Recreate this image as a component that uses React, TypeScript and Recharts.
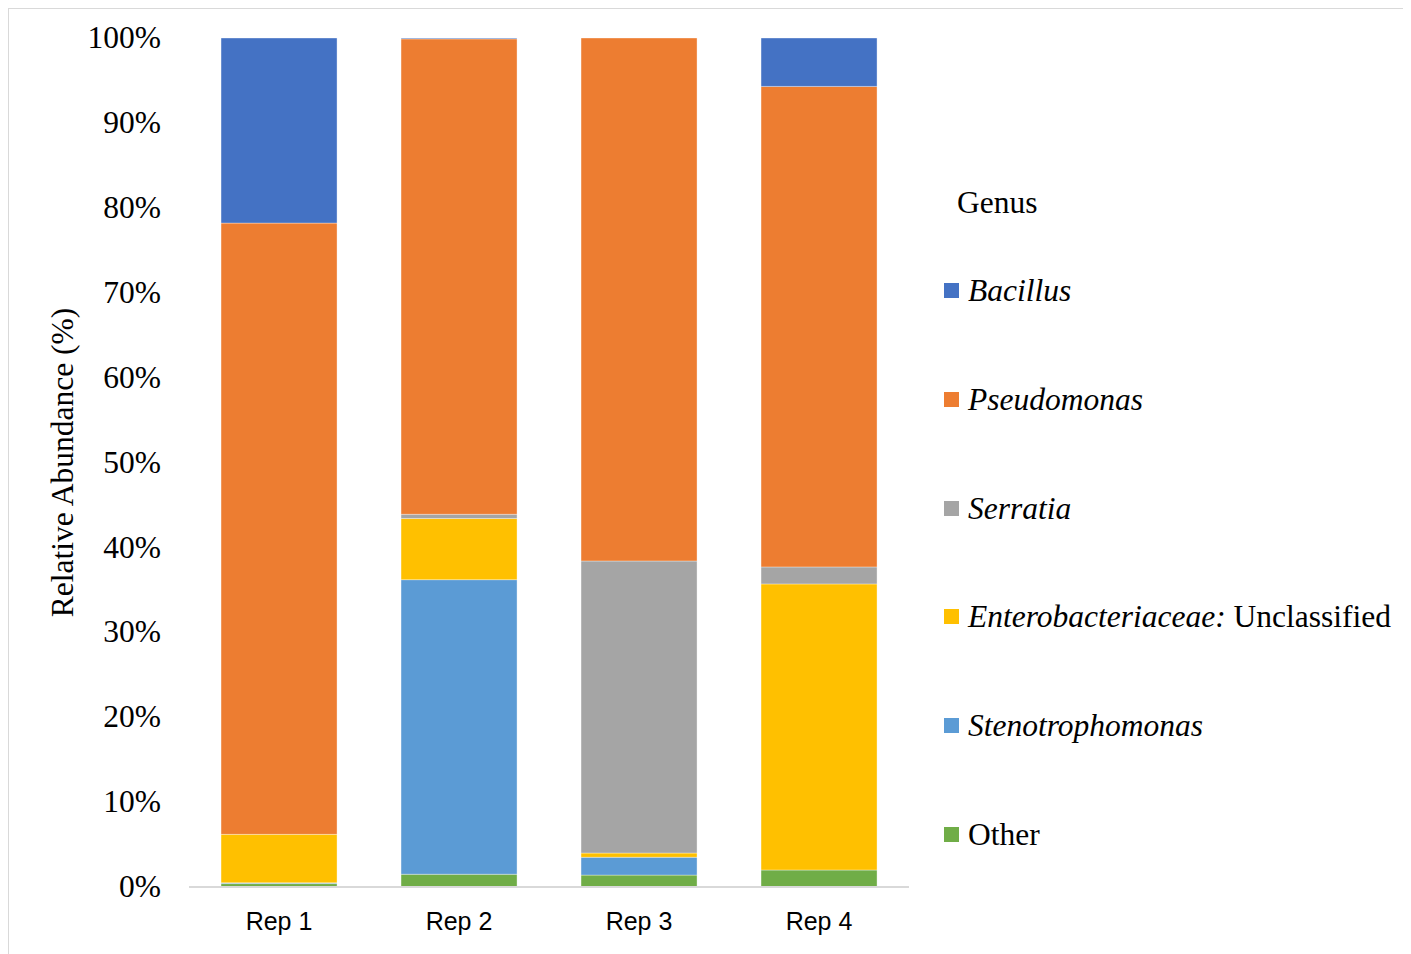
import { BarChart, Bar, XAxis, YAxis, Legend } from "recharts"

const reps = ["Rep 1", "Rep 2", "Rep 3", "Rep 4"]

// relative abundance (%) per genus, one value per rep
const other = [0.4, 1.5, 1.4, 2.0]
const stenotrophomonas = [0.1, 34.7, 2.1, 0.0]
const enterobacteriaceae = [5.7, 7.2, 0.5, 33.7]
const serratia = [0.0, 0.5, 34.4, 2.0]
const pseudomonas = [72.0, 56.0, 61.6, 56.6]
const bacillus = [21.8, 0.1, 0.0, 5.7]

const yTicks = [0, 10, 20, 30, 40, 50, 60, 70, 80, 90, 100]

const SERIES = [
  { key: "bacillus", name: "Bacillus", color: "#4472C4" },
  { key: "pseudomonas", name: "Pseudomonas", color: "#ED7D31" },
  { key: "serratia", name: "Serratia", color: "#A5A5A5" },
  { key: "entero", name: "Enterobacteriaceae:", suffix: "\u00a0Unclassified", color: "#FFC000" },
  { key: "steno", name: "Stenotrophomonas", color: "#5B9BD5" },
  { key: "other", name: "Other", color: "#70AD47", plain: true },
]

const data = reps.map((rep, i) => ({
  rep,
  other: other[i],
  steno: stenotrophomonas[i],
  entero: enterobacteriaceae[i],
  serratia: serratia[i],
  pseudomonas: pseudomonas[i],
  bacillus: bacillus[i],
}))

const serif = "'Liberation Serif', 'Times New Roman', serif"

// legend is drawn in a zero-size wrapper so it doesn't eat into the plot area
const renderLegend = () => (
  <div style={{ position: "relative", width: 0, height: 0, fontFamily: serif, fontSize: 31.5, color: "#000" }}>
    <div style={{ position: "absolute", left: 13, top: 178, lineHeight: "31px", whiteSpace: "nowrap" }}>Genus</div>
    {SERIES.map((s, i) => (
      <div
        key={s.key}
        style={{ position: "absolute", left: 0, top: 266 + i * 108.8, height: 31, lineHeight: "31px", display: "flex", alignItems: "center", whiteSpace: "nowrap" }}
      >
        <span style={{ display: "inline-block", width: 15, height: 15, background: s.color, marginRight: 9 }} />
        <span style={{ fontStyle: s.plain ? "normal" : "italic" }}>{s.name}</span>
        {s.suffix && <span style={{ fontStyle: "normal" }}>{s.suffix}</span>}
      </div>
    ))}
  </div>
)

export default function App() {
  const stackOrder = [...SERIES].reverse()
  return (
    <div style={{ width: 1402, height: 945, borderTop: "1px solid #d9d9d9", borderLeft: "1px solid #d9d9d9", background: "#fff" }}>
      <BarChart
        width={1402}
        height={945}
        data={data}
        margin={{ top: 29, right: 502, bottom: 0, left: 0 }}
        barCategoryGap="17.8%"
      >
        <XAxis
          dataKey="rep"
          height={67}
          axisLine={{ stroke: "#d9d9d9", strokeWidth: 2 }}
          tickLine={false}
          tickSize={0}
          tickMargin={25}
          tick={{ fill: "#000", fontSize: 25, fontFamily: "'Liberation Sans', Arial, sans-serif" }}
        />
        <YAxis
          width={180}
          domain={[0, 100]}
          ticks={yTicks}
          axisLine={false}
          tickLine={false}
          tickSize={0}
          tickMargin={28}
          tickFormatter={(v: number) => `${v}%`}
          tick={{ fill: "#000", fontSize: 31.5, fontFamily: serif, dy: -1 }}
          label={{
            value: "Relative Abundance (%)",
            angle: -90,
            position: "center",
            dx: -37,
            style: { fill: "#000", fontSize: 31.5, fontFamily: serif },
          }}
        />
        <Legend
          content={renderLegend}
          wrapperStyle={{ position: "absolute", left: 935, top: 0, width: 0, height: 0, overflow: "visible" }}
        />
        {stackOrder.map((s) => (
          <Bar
            key={s.key}
            dataKey={s.key}
            name={s.name}
            stackId="a"
            fill={s.color}
            stroke="#ffffff"
            strokeOpacity={0.35}
            strokeWidth={1}
            isAnimationActive={false}
          />
        ))}
      </BarChart>
    </div>
  )
}
